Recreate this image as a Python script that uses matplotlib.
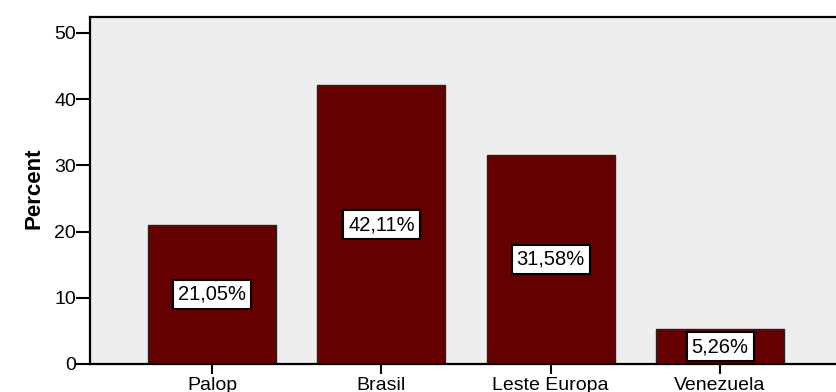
import matplotlib
matplotlib.use("Agg")
import matplotlib.pyplot as plt

# Data
categories = ["Palop", "Brasil", "Leste Europa", "Venezuela"]
percents = [21.05, 42.11, 31.58, 5.26]
labels = ["21,05%", "42,11%", "31,58%", "5,26%"]

plt.rcParams["font.family"] = ["Liberation Sans", "DejaVu Sans"]

fig = plt.figure(figsize=(8.36, 3.92), dpi=100)
ax = fig.add_axes([90 / 836, 28 / 392, 752 / 836, 347 / 392])
ax.set_facecolor("#EEEEEE")

x = range(len(categories))
ax.bar(x, percents, width=0.756, color="#660000", edgecolor="#222222", linewidth=1)

# boxed percent labels in the middle of each bar
for xi, p, lab in zip(x, percents, labels):
    ax.text(xi, p / 2, lab, ha="center", va="center", fontsize=14.5,
            bbox=dict(boxstyle="square,pad=0.25", facecolor="white",
                      edgecolor="black", linewidth=1.5))

ax.set_xlim(-0.72, 3.72)
ax.set_ylim(0, 52.4)
ax.set_yticks([0, 10, 20, 30, 40, 50])
ax.set_xticks(list(x))
ax.set_xticklabels(categories)

ax.tick_params(axis="y", length=10, width=1.5, labelsize=14, pad=0)
ax.tick_params(axis="x", length=7, width=1.5, labelsize=14, pad=2)

for s in ax.spines.values():
    s.set_linewidth(1.6)

ax.set_ylabel("Percent", fontsize=16, fontweight="bold")
ax.yaxis.set_label_coords(-0.06, 0.507)

fig.savefig("out.png", dpi=100)
